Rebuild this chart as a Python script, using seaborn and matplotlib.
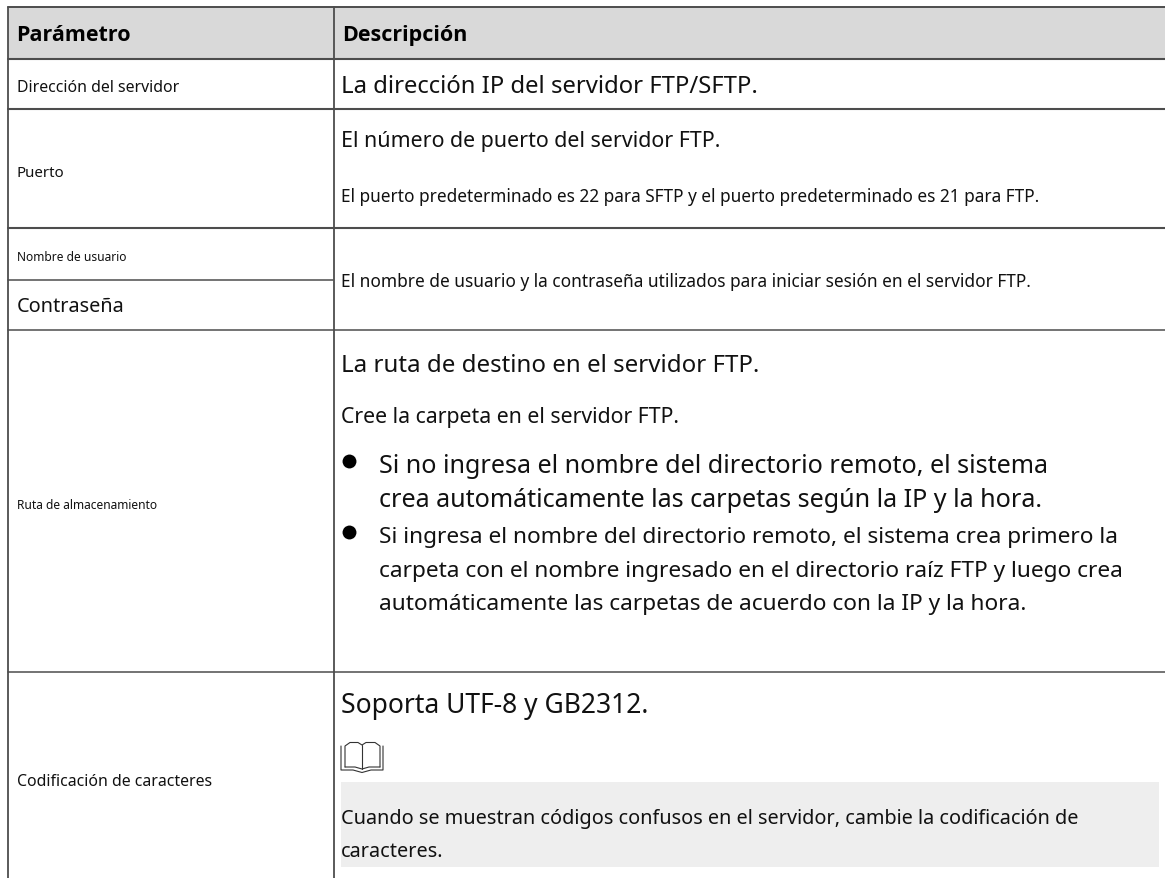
import matplotlib
matplotlib.use("Agg")
import matplotlib.pyplot as plt
import seaborn as sns
import pandas as pd

# textos de la tabla
encabezados = ["Parámetro", "Descripción"]
parametros = ["Dirección del servidor", "Puerto", "Nombre de usuario", "Contraseña",
              "Ruta de almacenamiento", "Codificación de caracteres"]
descripciones = [
    "La dirección IP del servidor FTP/SFTP.",
    "El número de puerto del servidor FTP.",
    "El puerto predeterminado es 22 para SFTP y el puerto predeterminado es 21 para FTP.",
    "El nombre de usuario y la contraseña utilizados para iniciar sesión en el servidor FTP.",
    "La ruta de destino en el servidor FTP.",
    "Cree la carpeta en el servidor FTP.",
    "Si no ingresa el nombre del directorio remoto, el sistema",
    "crea automáticamente las carpetas según la IP y la hora.",
    "Si ingresa el nombre del directorio remoto, el sistema crea primero la",
    "carpeta con el nombre ingresado en el directorio raíz FTP y luego crea",
    "automáticamente las carpetas de acuerdo con la IP y la hora.",
    "Soporta UTF-8 y GB2312.",
    "Cuando se muestran códigos confusos en el servidor, cambie la codificación de",
    "caracteres.",
]

# posiciones en pixeles de la imagen
param_y = [92, 177, 261, 312, 509, 786]
param_size = [11.4, 10.8, 8.6, 14.3, 8.6, 11.4]
desc_y = [93, 147, 202, 287, 372, 423, 473, 507, 543, 577, 610, 713, 824, 857]
desc_size = [17.2, 15.4, 12.4, 12.45, 17.3, 15.3, 18.1, 18.1, 16.3, 16.3, 16.3, 19.05, 14.3, 14.3]
desc_x = [341, 341, 341, 341, 341, 341, 379, 379, 379, 379, 379, 341, 341, 341]
bullets = pd.DataFrame({"x": [349, 349], "y": [462, 533]})

sns.set_theme(style="white")
plt.rcParams["font.family"] = ["Noto Sans", "DejaVu Sans"]

fig = plt.figure(figsize=(11.65, 8.79), dpi=100)
ax = fig.add_axes([0, 0, 1, 1])
ax.set_xlim(0, 1165)
ax.set_ylim(879, 0)
ax.axis("off")

# fondo del encabezado y de la nota
ax.fill_between([8, 1165], 8, 59, color="#d9d9d9", lw=0, zorder=0)
ax.fill_between([341, 1159], 783, 868, color="#eeeeee", lw=0, zorder=0)

# lineas de la tabla: (y, fin en x, grosor)
rayas = [(8, 1165, 1.4), (59.5, 1165, 1.5), (109.5, 1165, 1.5), (229, 1165, 1.5),
         (280.5, 333, 1.1), (331, 1165, 1.1), (672.5, 1165, 1.1)]
for y, fin, grueso in rayas:
    sns.lineplot(x=[8, fin], y=[y, y], color="#4d4d4d", lw=grueso, ax=ax, zorder=2, errorbar=None)
for x in [8, 333.5]:
    sns.lineplot(x=[x, x], y=[8, 879], color="#4d4d4d", lw=1.3, ax=ax, zorder=2, errorbar=None,
                 orient="y")

ax.text(16.5, 41, encabezados[0], fontsize=15.5, fontweight="bold", color="black", family="Open Sans")
ax.text(342, 41, encabezados[1], fontsize=15.5, fontweight="bold", color="black", family="Open Sans")
for t, y, s in zip(parametros, param_y, param_size):
    ax.text(17, y, t, fontsize=s, color="#111111")
for t, x, y, s in zip(descripciones, desc_x, desc_y, desc_size):
    ax.text(x, y, t, fontsize=s, color="#111111")

sns.scatterplot(data=bullets, x="x", y="y", s=100, color="black", linewidth=0, ax=ax, zorder=3)

# icono del libro
libro = dict(color="#333333", lw=0.8, zorder=3)
ax.plot([345, 345, 350, 358, 362, 366, 375, 380, 380], [768, 747, 743.5, 743.5, 746, 743.5, 743.5, 747, 768], **libro)
ax.plot([345, 355, 362, 369, 380], [768, 768, 770, 768, 768], **libro)
ax.plot([362, 362], [746, 770], **libro)
ax.plot([341, 341, 353, 362, 371, 383, 383], [747, 771, 771, 773.5, 771, 771, 747], **libro)

fig.savefig("out.png", dpi=100)
